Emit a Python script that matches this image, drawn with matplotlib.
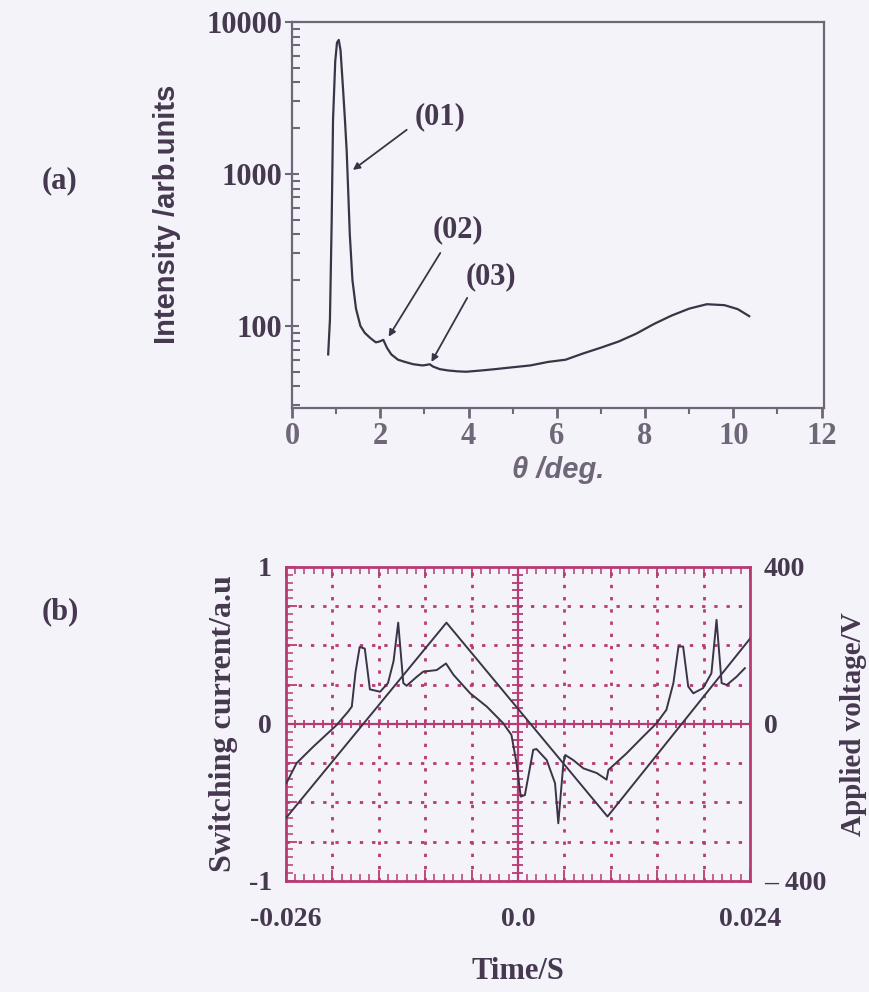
import numpy as np
import matplotlib.pyplot as plt
from matplotlib.ticker import MultipleLocator, LogLocator, NullFormatter

# (a) XRD pattern
theta = [0.82, 0.86, 0.90, 0.93, 0.98, 1.02, 1.06, 1.10, 1.16, 1.20, 1.24, 1.27,
         1.31, 1.37, 1.45, 1.55, 1.65, 1.78, 1.90, 1.98, 2.07, 2.15, 2.25, 2.40,
         2.56, 2.75, 2.96, 3.05, 3.12, 3.20, 3.35, 3.53, 3.75, 3.95, 4.3, 4.6,
         5.0, 5.4, 5.8, 6.2, 6.6, 7.0, 7.4, 7.8, 8.2, 8.6, 9.0, 9.4, 9.8, 10.1, 10.36]
intensity = [65, 110, 500, 2265, 5500, 7300, 7600, 6500, 3500, 2265, 1400, 824,
             400, 200, 130, 100, 90, 83, 78, 79, 81, 72, 65, 60,
             58, 56, 55, 55.5, 56, 54, 52, 51, 50.3, 50, 51, 52,
             53.5, 55, 58, 60, 66, 72, 79, 89, 103, 117, 130, 139, 137, 129, 116]
peak_names = ['(01)', '(02)', '(03)']
peak_text = [(3.35, 2370), (3.77, 428), (4.5, 210)]
arrow_from = [(2.6, 1950), (3.36, 302), (3.97, 153)]
arrow_to = [(1.38, 1062), (2.19, 85), (3.16, 58)]

# (b) switching current and applied voltage
t_cur = [-0.02495, -0.02385, -0.02205, -0.01955, -0.0183, -0.0179, -0.0175, -0.01705,
         -0.0165, -0.01595, -0.01485, -0.014, -0.0134, -0.0129, -0.01235, -0.012,
         -0.0109, -0.0102, -0.00875, -0.00775, -0.00695, -0.00515, -0.00335, -0.0016,
         -0.0007, -0.00015, 0.0003, 0.00075, 0.00165, 0.002, 0.0031, 0.004, 0.00435,
         0.0049, 0.0051, 0.00595, 0.00705, 0.0085, 0.00955, 0.00975, 0.0117, 0.0135,
         0.01495, 0.016, 0.01675, 0.0173, 0.0178, 0.01835, 0.0189, 0.01995, 0.02085,
         0.0214, 0.02195, 0.0225, 0.02355, 0.02445]
current = [-0.378, -0.25, -0.145, -0.008, 0.078, 0.11, 0.33, 0.49,
           0.48, 0.22, 0.205, 0.26, 0.40, 0.645, 0.26, 0.243,
           0.30, 0.333, 0.343, 0.385, 0.313, 0.195, 0.11, 0.005,
           -0.07, -0.25, -0.463, -0.453, -0.165, -0.16, -0.23, -0.378, -0.633,
           -0.25, -0.198, -0.23, -0.283, -0.313, -0.355, -0.293, -0.188, -0.08,
           0.005, 0.09, 0.26, 0.493, 0.493, 0.238, 0.195, 0.228, 0.323,
           0.663, 0.26, 0.248, 0.30, 0.355]
t_volt = [-0.025, -0.0077, 0.00965, 0.025]
voltage = [-240, 258, -236, 217]

bg = '#f4f3fa'
ink = '#45384f'
pale = '#6f6677'
grid_c = '#b83a72'
line_c = '#3b3346'
serif = 'Liberation Serif'

fig = plt.figure(figsize=(8.69, 9.92), dpi=100, facecolor=bg)

# ---------- panel (a) ----------
ax = fig.add_axes([0.336, 0.589, 0.612, 0.389], facecolor=bg)
ax.plot(theta, intensity, color=line_c, lw=1.6)
ax.set_yscale('log')
ax.set_xlim(0, 12.05)
ax.set_ylim(29, 10000)
ax.set_xticks([0, 2, 4, 6, 8, 10, 12])
ax.xaxis.set_minor_locator(MultipleLocator(1))
ax.set_yticks([100, 1000, 10000])
ax.set_yticklabels(['100', '1000', '10000'])
ax.yaxis.set_minor_locator(LogLocator(base=10, subs=np.arange(2, 10)))
ax.yaxis.set_minor_formatter(NullFormatter())
for s in ax.spines.values():
    s.set_color(pale)
    s.set_linewidth(1.6)
ax.tick_params(axis='y', which='major', direction='inout', length=10, width=1.5,
               color=pale, labelsize=22, labelcolor=ink, pad=2)
ax.tick_params(axis='y', which='minor', direction='in', length=6, width=1.5, color=pale)
ax.tick_params(axis='x', which='major', direction='out', length=7, width=2,
               color=pale, labelsize=22, labelcolor=pale, pad=3)
ax.tick_params(axis='x', which='minor', direction='out', length=4, width=1.5, color=pale)
for lab in ax.get_xticklabels() + ax.get_yticklabels():
    lab.set_fontfamily(serif)
    lab.set_fontweight('bold')
ax.set_ylabel('Intensity /arb.units', fontfamily='Liberation Sans', fontweight='bold',
              fontsize=21, color=ink, labelpad=18)
ax.set_xlabel('θ /deg.', fontfamily='Liberation Sans', fontweight='bold', style='italic',
              fontsize=21, color=pale, labelpad=4)

for name, pos, a0, a1 in zip(peak_names, peak_text, arrow_from, arrow_to):
    ax.text(pos[0], pos[1], name, ha='center', va='center', fontfamily=serif,
            fontweight='bold', fontsize=22, color=ink)
    ax.annotate('', xy=a1, xytext=a0,
                arrowprops=dict(arrowstyle='-|>', color=line_c, lw=1.3,
                                mutation_scale=10, shrinkA=0, shrinkB=0))

fig.text(0.069, 0.818, '(a)', ha='center', va='center', fontfamily=serif,
         fontweight='bold', fontsize=22, color=ink)

# ---------- panel (b) ----------
bx = fig.add_axes([0.329, 0.112, 0.534, 0.3165], facecolor=bg)
bx.set_xlim(-0.025, 0.025)
bx.set_ylim(-1, 1)

# oscilloscope graticule
for xv in np.arange(-0.02, 0.0201, 0.005):
    if abs(xv) > 1e-9:
        bx.axvline(xv, color=grid_c, lw=2, ls=(0, (1.2, 3.2)), zorder=1)
for yv in np.arange(-0.75, 0.76, 0.25):
    if abs(yv) > 1e-9:
        bx.axhline(yv, color=grid_c, lw=2, ls=(0, (1.2, 3.2)), zorder=1)
bx.axvline(0, color=grid_c, lw=1.6, zorder=1)
bx.axhline(0, color=grid_c, lw=1.6, zorder=1)
xm = np.arange(-0.025, 0.02501, 0.001)
ym = np.arange(-1, 1.001, 0.05)
bx.vlines(xm, -0.025, 0.025, color=grid_c, lw=1.3, zorder=1)
bx.hlines(ym, -0.0006, 0.0006, color=grid_c, lw=1.3, zorder=1)

bx.plot(t_cur, current, color=line_c, lw=1.4, zorder=3)

for s in bx.spines.values():
    s.set_color(grid_c)
    s.set_linewidth(2)

xt = np.arange(-0.025, 0.02501, 0.005)
bx.set_xticks(xt)
bx.set_xticklabels(['-0.026' if i == 0 else '0.0' if i == 5 else '0.024' if i == 10 else ''
                    for i in range(len(xt))])
bx.xaxis.set_minor_locator(MultipleLocator(0.001))
yt = np.arange(-1, 1.001, 0.25)
bx.set_yticks(yt)
bx.set_yticklabels(['-1' if i == 0 else '0' if i == 4 else '1' if i == 8 else ''
                    for i in range(len(yt))])
bx.yaxis.set_minor_locator(MultipleLocator(0.05))
bx.tick_params(which='both', direction='in', color=grid_c, top=True, right=True,
               labelright=False, labeltop=False)
bx.tick_params(which='major', length=8, width=1.3)
bx.tick_params(which='minor', length=5, width=1.1)
bx.tick_params(axis='x', which='major', labelsize=20, labelcolor=ink, pad=19)
bx.tick_params(axis='y', which='major', labelsize=20, labelcolor=ink, pad=10)
for lab in bx.get_xticklabels() + bx.get_yticklabels():
    lab.set_fontfamily(serif)
    lab.set_fontweight('bold')
bx.set_xlabel('Time/S', fontfamily=serif, fontweight='bold', fontsize=22,
              color=ink, labelpad=18)
bx.set_ylabel('Switching current/a.u', fontfamily=serif, fontweight='bold',
              fontsize=23, color=ink, labelpad=8)

vx = bx.twinx()
vx.plot(t_volt, voltage, color=line_c, lw=1.4, zorder=3)
vx.set_ylim(-400, 400)
vx.set_yticks([-400, 0, 400])
vx.set_yticklabels(['– 400', '0', '400'])
vx.tick_params(axis='y', length=0, labelsize=20, labelcolor=ink, pad=10)
for lab in vx.get_yticklabels():
    lab.set_fontfamily(serif)
    lab.set_fontweight('bold')
for s in vx.spines.values():
    s.set_visible(False)
vx.set_ylabel('Applied voltage/V', fontfamily=serif, fontweight='bold', fontsize=21,
              color=ink, rotation=90, labelpad=10)

fig.text(0.069, 0.383, '(b)', ha='center', va='center', fontfamily=serif,
         fontweight='bold', fontsize=22, color=ink)

fig.savefig('out.png', dpi=100, facecolor=bg)
